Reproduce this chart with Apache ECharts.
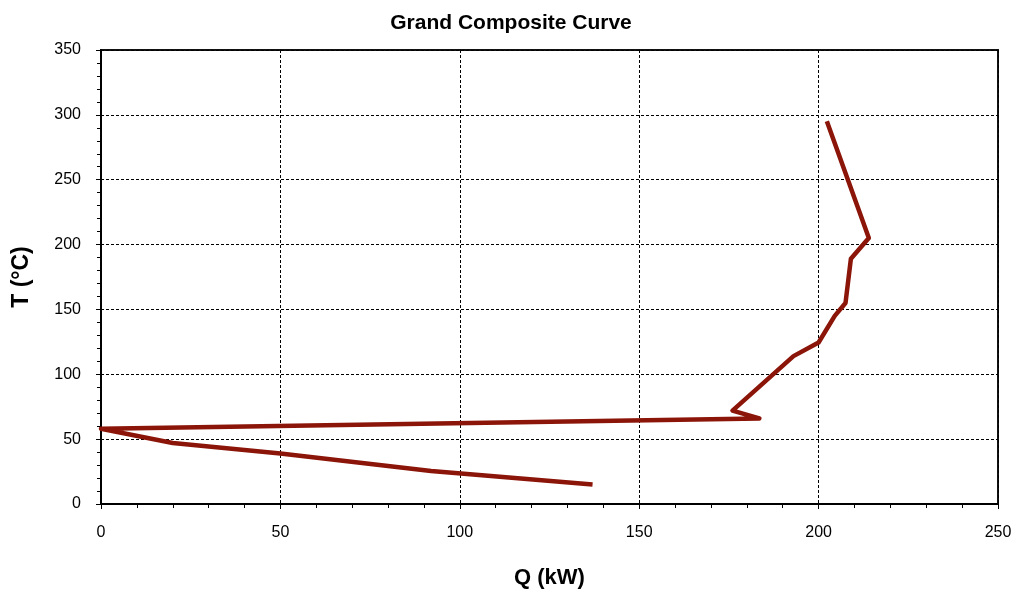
<!DOCTYPE html>
<html><head><meta charset="utf-8">
<script src="https://cdn.jsdelivr.net/npm/echarts@6/dist/echarts.min.js"></script>
<style>html,body{margin:0;padding:0;background:#fff}#c{width:1012px;height:592px}</style>
</head><body><div id="c"></div>
<script>
const title = 'Grand Composite Curve';
const xName = 'Q (kW)';
const yName = 'T (°C)';
const qValues = [202.3, 214, 209, 207.5, 204.5, 200, 193, 176, 183.5, 0, 20, 50, 92, 137];
const tValues = [295, 205, 189, 155, 145, 124.5, 114, 72, 66, 58, 47, 39, 25.5, 15];

const data = qValues.map((q, i) => [q, tValues[i]]);
const font = 'Arial, "Liberation Sans", sans-serif';
const chart = echarts.init(document.getElementById('c'));
chart.setOption({
  animation: false,
  backgroundColor: '#fff',
  title: { text: title, left: 506, top: 8, textAlign: 'center',
    textStyle: { fontFamily: font, fontSize: 21, fontWeight: 'bold', color: '#000' } },
  grid: { left: 101, top: 50, right: 14, bottom: 88, outerBoundsMode: 'none', containLabel: false,
    show: true, borderColor: '#111', borderWidth: 2, backgroundColor: '#fff' },
  xAxis: {
    type: 'value', min: 0, max: 250, interval: 50,
    name: xName, nameLocation: 'middle', nameGap: 63,
    nameTextStyle: { fontFamily: font, fontSize: 22, fontWeight: 'bold', color: '#000' },
    axisLine: { show: true, onZero: false, lineStyle: { color: '#000', width: 2 } },
    axisTick: { show: true, inside: false, length: 5, lineStyle: { color: '#000' } },
    minorTick: { show: true, splitNumber: 5, length: 4, lineStyle: { color: '#000' } },
    axisLabel: { fontFamily: font, fontSize: 16, color: '#000', margin: 21 },
    splitLine: { show: true, lineStyle: { color: '#000', type: [3, 2], width: 1 } }
  },
  yAxis: {
    type: 'value', min: 0, max: 350, interval: 50,
    name: yName, nameLocation: 'middle', nameGap: 68, nameRotate: 90,
    nameTextStyle: { fontFamily: font, fontSize: 23, fontWeight: 'bold', color: '#000' },
    axisLine: { show: true, onZero: false, lineStyle: { color: '#000', width: 2 } },
    axisTick: { show: true, inside: false, length: 5, lineStyle: { color: '#000' } },
    minorTick: { show: true, splitNumber: 5, length: 4, lineStyle: { color: '#000' } },
    axisLabel: { fontFamily: font, fontSize: 16, color: '#000', margin: 20 },
    splitLine: { show: true, lineStyle: { color: '#000', type: [3, 2], width: 1 } }
  },
  series: [{
    type: 'line', data: data, showSymbol: false, symbol: 'none',
    lineStyle: { color: '#8B1508', width: 4.5, join: 'round' }
  }]
});
</script></body></html>
